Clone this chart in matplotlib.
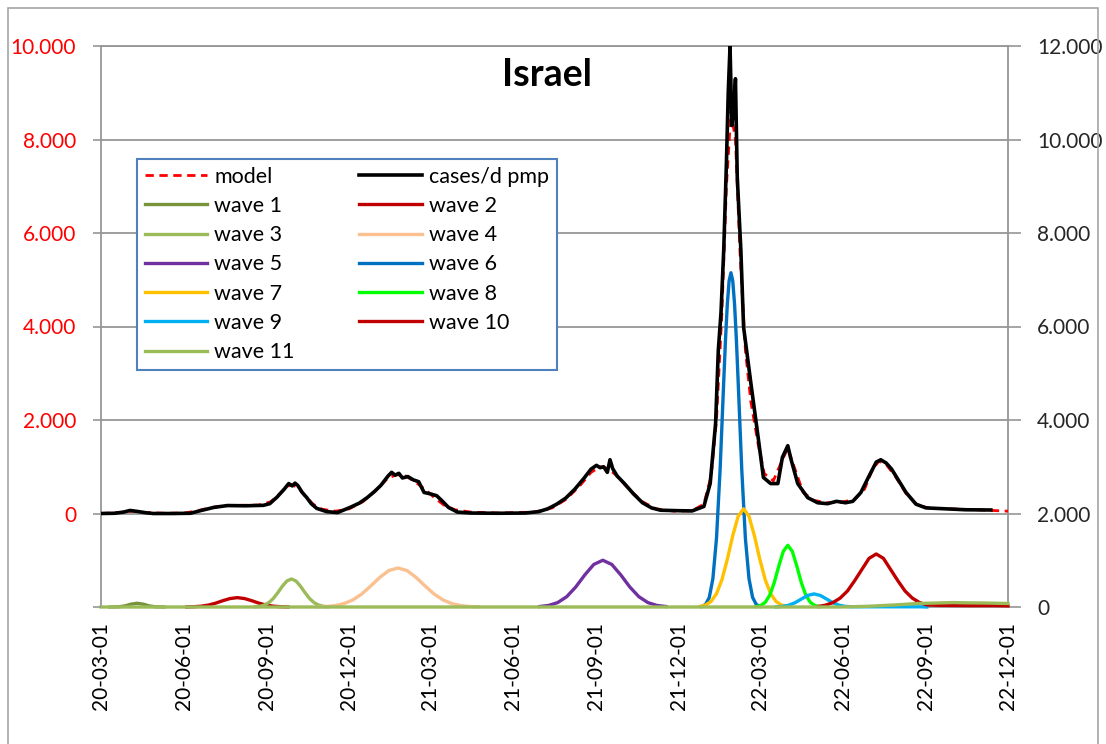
import matplotlib
matplotlib.use('Agg')
import matplotlib.pyplot as plt
import matplotlib.dates as mdates
from matplotlib.patches import Rectangle
from matplotlib.ticker import FuncFormatter
import numpy as np
import pandas as pd

plt.rcParams['font.family'] = ['Lato', 'DejaVu Sans']

START = pd.Timestamp('2020-03-01')
END = pd.Timestamp('2022-12-01')

# (day since 2020-03-01, value) -- left axis
cases = [(0, 0), (15, 5), (25, 30), (32, 65), (40, 45), (50, 15), (58, 0), (80, 0), (99, 5), (110, 60),
         (125, 130), (140, 170), (160, 165), (180, 175), (187, 210), (195, 350), (203, 520), (208, 640),
         (212, 590), (215, 650), (218, 600), (223, 450), (228, 340), (233, 210), (239, 110), (250, 40),
         (262, 20), (276, 130), (286, 220), (295, 340), (303, 470), (310, 600), (318, 800), (322, 880),
         (326, 820), (330, 860), (334, 760), (340, 790), (346, 720), (352, 680), (358, 450), (365, 420),
         (372, 380), (379, 250), (385, 130), (395, 30), (410, 10), (440, 5), (470, 10), (485, 40),
         (495, 100), (505, 200), (515, 330), (525, 520), (535, 750), (543, 950), (549, 1030), (553, 980),
         (557, 1000), (561, 880), (564, 1150), (567, 960), (572, 800), (580, 640), (590, 420), (600, 230),
         (610, 120), (620, 70), (640, 60), (655, 55), (668, 150), (675, 640), (681, 1930), (684, 3490),
         (687, 4300), (690, 5630), (693, 7500), (695, 9000), (697, 10000), (699, 8300), (701, 8600),
         (703, 9300), (705, 7200), (709, 5630), (712, 3990), (720, 2800), (728, 1650), (734, 770),
         (742, 640), (750, 640), (755, 1200), (761, 1450), (764, 1200), (772, 640), (783, 340),
         (794, 230), (805, 210), (815, 260), (825, 230), (833, 260), (842, 450), (851, 800), (859, 1100),
         (864, 1150), (870, 1080), (876, 950), (884, 700), (892, 450), (903, 200), (914, 120), (936, 100),
         (958, 80), (986, 75)]

model = [(0, 0), (20, 20), (35, 50), (50, 20), (70, 5), (92, 10), (105, 50), (120, 120), (135, 165),
         (155, 175), (175, 180), (188, 250), (198, 420), (205, 560), (211, 620), (218, 560), (226, 380),
         (235, 200), (245, 90), (260, 50), (275, 100), (290, 250), (305, 500), (318, 760), (328, 830),
         (338, 800), (350, 650), (360, 500), (370, 330), (380, 180), (392, 80), (410, 30), (440, 10),
         (480, 30), (500, 120), (515, 300), (530, 580), (543, 880), (553, 1000), (562, 960), (572, 800),
         (585, 520), (600, 250), (615, 100), (635, 50), (655, 60), (668, 200), (676, 800), (682, 2000),
         (688, 4300), (693, 7000), (698, 8600), (703, 8000), (708, 5600), (714, 3500), (720, 2400),
         (728, 1500), (735, 850), (745, 700), (755, 1150), (761, 1400), (768, 1000), (778, 450),
         (790, 280), (805, 230), (820, 240), (835, 300), (846, 520), (855, 950), (862, 1120), (870, 1050),
         (880, 800), (892, 430), (905, 170), (920, 110), (940, 100), (970, 80), (1005, 50)]

# waves -- right axis
wave1 = [(10, 0), (20, 5), (27, 25), (33, 60), (40, 80), (47, 60), (53, 25), (60, 5), (70, 0)]
wave2 = [(95, 2), (103, 6), (111, 17), (119, 41), (127, 82), (135, 135), (143, 181), (151, 200),
         (159, 181), (167, 135), (175, 82), (183, 41), (191, 17), (199, 6), (207, 2)]
wave3 = [(171, 5), (176, 16), (181, 42), (186, 94), (191, 184), (196, 308), (201, 446), (206, 557),
         (211, 600), (216, 557), (221, 446), (226, 308), (231, 184), (236, 94), (241, 42), (246, 16),
         (251, 5)]
wave4 = [(239, 3), (249, 10), (259, 29), (269, 71), (279, 150), (289, 279), (299, 452), (309, 635),
         (319, 780), (329, 835), (339, 780), (349, 635), (359, 452), (369, 279), (379, 150), (389, 71),
         (399, 29), (409, 10), (419, 3)]
wave5 = [(486, 10), (496, 33), (506, 94), (516, 220), (526, 427), (536, 685), (546, 910), (556, 1000),
         (566, 910), (576, 685), (586, 427), (596, 220), (606, 94), (616, 33), (626, 10)]
wave6 = [(666, 13), (670, 57), (674, 205), (678, 607), (682, 1470), (686, 2940), (690, 4820),
         (692, 5730), (694, 6480), (696, 6980), (698, 7150), (700, 6980), (702, 6480), (704, 5730),
         (706, 4820), (710, 2940), (714, 1470), (718, 607), (722, 205), (726, 57), (730, 13)]
wave7 = [(664, 13), (670, 42), (676, 118), (682, 283), (688, 583), (694, 1020), (700, 1525),
         (706, 1940), (712, 2100), (718, 1940), (724, 1525), (730, 1020), (736, 583), (742, 283),
         (748, 118), (754, 42), (760, 13)]
wave8 = [(726, 8), (731, 32), (736, 100), (741, 252), (746, 522), (751, 874), (756, 1190), (761, 1320),
         (766, 1190), (771, 874), (776, 522), (781, 252), (786, 100), (791, 32), (796, 8)]
wave9 = [(748, 3), (755, 12), (762, 38), (769, 91), (776, 170), (783, 247), (790, 280), (797, 247),
         (804, 170), (811, 91), (818, 38), (825, 12), (832, 5), (860, 5), (910, 4), (915, 0)]
wave10 = [(795, 12), (803, 40), (811, 95), (819, 190), (827, 340), (835, 560), (843, 800), (851, 1040),
          (859, 1134), (867, 1040), (875, 800), (883, 560), (891, 340), (899, 190), (907, 95), (915, 45),
          (930, 35), (960, 30), (990, 30), (1005, 25)]
wave11 = [(0, 0), (820, 0), (850, 15), (880, 45), (905, 75), (925, 85), (945, 95), (955, 90),
          (980, 85), (1005, 75)]

wave_series = [wave1, wave2, wave3, wave4, wave5, wave6, wave7, wave8, wave9, wave10, wave11]
wave_colors = ['#77933C', '#C00000', '#9BBB59', '#FAC090', '#7030A0', '#0070C0',
               '#FFC000', '#00FF00', '#00B0F0', '#C00000', '#9BBB59']

GRID = '#969696'


def to_xy(series):
    arr = np.array(series, dtype=float)
    dates = START + pd.to_timedelta(arr[:, 0], unit='D')
    return dates, arr[:, 1]


def thousands(v, pos=None):
    return '{:,.0f}'.format(v).replace(',', '.')


fig = plt.figure(figsize=(11.06, 7.44), dpi=100)
ax = fig.add_axes([101 / 1106, 1 - 607 / 744, 907 / 1106, 561 / 744])
ax2 = ax.twinx()
ax.set_zorder(ax2.get_zorder() + 1)
ax.patch.set_visible(False)

handles = {}
for i, (w, c) in enumerate(zip(wave_series, wave_colors)):
    x, y = to_xy(w)
    h, = ax2.plot(x, y, color=c, lw=2.4, solid_joinstyle='round', zorder=3, clip_on=False,
                  label='wave %d' % (i + 1))
    handles['wave %d' % (i + 1)] = h

x, y = to_xy(model)
handles['model'], = ax.plot(x, y, color='#FF0000', lw=2.0, ls=(0, (3, 2)), label='model')
x, y = to_xy(cases)
handles['cases/d pmp'], = ax.plot(x, y, color='black', lw=2.6, solid_joinstyle='round', label='cases/d pmp')

ax.set_xlim(START, END)
ax.set_ylim(-2000, 10000)
ax2.set_ylim(0, 12000)

ax.set_yticks(np.arange(-2000, 10001, 2000))
ax.yaxis.set_major_formatter(FuncFormatter(lambda v, p: '' if v < 0 else thousands(v)))
ax2.set_yticks(np.arange(0, 12001, 2000))
ax2.yaxis.set_major_formatter(FuncFormatter(thousands))

xticks = pd.date_range(START, END, freq='3MS')
ax.set_xticks(xticks)
ax.xaxis.set_major_formatter(mdates.DateFormatter('%y-%m-%d'))
ax.tick_params(axis='x', rotation=90, length=0, pad=11, labelsize=15, colors='black')
ax.tick_params(axis='y', length=6, width=1.2, color=GRID, labelcolor='#FF0000', labelsize=15, pad=12)
ax2.tick_params(axis='y', length=9, width=1.2, color=GRID, labelcolor='#262626', labelsize=15, pad=12)

ax2.set_xticks(xticks)
ax2.grid(True, color=GRID, lw=1.3, zorder=1)
ax2.set_axisbelow(True)
for s in ax.spines.values():
    s.set_visible(False)
for s in ax2.spines.values():
    s.set_color(GRID)
    s.set_linewidth(1.3)
    s.set_zorder(1)

order = ['model', 'wave 1', 'wave 3', 'wave 5', 'wave 7', 'wave 9', 'wave 11',
         'cases/d pmp', 'wave 2', 'wave 4', 'wave 6', 'wave 8', 'wave 10']
leg = ax.legend([handles[k] for k in order], order, ncol=2, loc='upper left',
                bbox_to_anchor=(137 / 1106, 1 - 159 / 744), bbox_transform=fig.transFigure,
                fancybox=False, framealpha=1, edgecolor='#4F81BD', fontsize=15.5,
                handlelength=2.9, handletextpad=0.35, labelspacing=0.43, columnspacing=3.0,
                borderpad=0.35, borderaxespad=0)
leg.get_frame().set_linewidth(1.5)
leg.set_zorder(20)

fig.text(547 / 1106, 1 - 75 / 744, 'Israel', ha='center', va='center', fontsize=27, fontweight='bold')

fig.patches.append(Rectangle((8 / 1106, -0.01), (1098 - 8) / 1106, 1.01 - 8 / 744,
                             transform=fig.transFigure, fill=False, edgecolor='#A6A6A6', lw=1.2))

fig.savefig('out.png', dpi=100)
